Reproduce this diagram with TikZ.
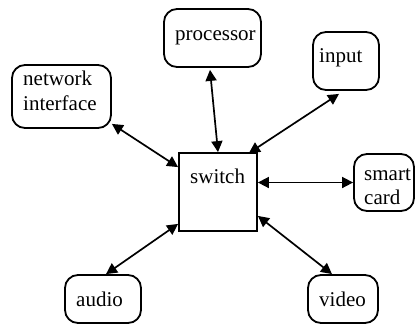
\documentclass[tikz,border=0pt]{standalone}
\usepackage{fontspec}
\setmainfont{Liberation Serif}
\usetikzlibrary{arrows.meta,calc}
\begin{document}
\begin{tikzpicture}[x=1pt,y=-1pt,
  box/.style={draw,line width=1.8pt,rounded corners=13pt,inner sep=0pt},
  sq/.style={draw,line width=1.8pt,inner sep=0pt},
  txt/.style={anchor=base west,inner sep=0pt,font=\fontsize{21}{24}\selectfont},
  link/.style={line width=1.7pt,{Triangle[length=11pt,width=11pt]}-{Triangle[length=11pt,width=11pt]}}]
\useasboundingbox (0,0) rectangle (415,325);
% boxes
\node[box,minimum width=97pt,minimum height=58pt] (proc) at (212.5,38) {};
\node[box,minimum width=66pt,minimum height=58pt] (inp) at (346,61) {};
\node[box,minimum width=99pt,minimum height=63pt] (net) at (61.5,96.5) {};
\node[sq,minimum width=78pt,minimum height=78pt] (sw) at (218,192) {};
\node[box,minimum width=60pt,minimum height=57pt] (sc) at (384,182.5) {};
\node[box,minimum width=76pt,minimum height=48pt] (au) at (103,299) {};
\node[box,minimum width=70pt,minimum height=48pt] (vid) at (343,299) {};
% texts
\node[txt] (tproc) at (175,40) {processor};
\node[txt] (tinp) at (319,62) {input};
\node[txt] (tnet1) at (23,85) {network};
\node[txt] (tnet2) at (23,110) {interface};
\node[txt] (tsw) at (190,183) {switch};
\node[txt] (tsc1) at (364,180) {smart};
\node[txt] (tsc2) at (364,204) {card};
\node[txt] (tau) at (76,306) {audio};
\node[txt] (tvid) at (319,306) {video};
% connectors
\draw[link] ($(proc.south)+(-2.5,2)$) -- ($(sw.north)$);
\draw[link] ($(inp.south)+(-7,3)$) -- ($(sw.north east)+(-9,1)$);
\draw[link] ($(net.south east)+(0,-5)$) -- ($(sw.north west)+(0,15)$);
\draw[link] (sw.east |- sc.west) -- (sc.west);
\draw[link] ($(sw.south west)+(0,-8)$) -- ($(au.north)+(3,0)$);
\draw[link] ($(sw.south east)+(0,-16)$) -- ($(vid.north)+(-11,0)$);
\end{tikzpicture}
\end{document}
